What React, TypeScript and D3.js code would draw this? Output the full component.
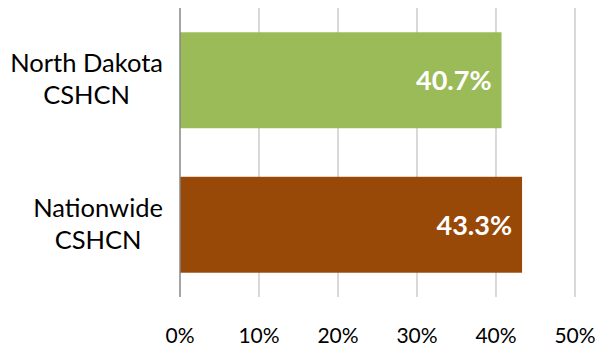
import React, { useEffect, useRef } from "react";
import * as d3 from "d3";

const categories = ["North Dakota\nCSHCN", "Nationwide\nCSHCN"];
const values = [40.7, 43.3];
const barColors = ["#9BBB59", "#984807"];
const ticks = [0, 10, 20, 30, 40, 50];

const W = 602;
const H = 347;

export default function App() {
  const ref = useRef<SVGSVGElement>(null);

  useEffect(() => {
    const svg = d3.select(ref.current);
    svg.selectAll("*").remove();

    const x = d3.scaleLinear().domain([0, 50]).range([180, 575]);
    const y = d3.scaleBand<number>().domain(d3.range(categories.length)).range([8, 297]).paddingInner(0.336).paddingOuter(0.168);

    // gridlines
    svg.append("g")
      .selectAll("line")
      .data(ticks.filter((t) => t !== 0))
      .join("line")
      .attr("x1", (d) => x(d))
      .attr("x2", (d) => x(d))
      .attr("y1", 8)
      .attr("y2", 297)
      .attr("stroke", "#BFBFBF")
      .attr("stroke-width", 1.2);

    // bars
    svg.append("g")
      .selectAll("rect")
      .data(values)
      .join("rect")
      .attr("x", x(0))
      .attr("y", (_, i) => y(i)!)
      .attr("width", (d) => x(d) - x(0))
      .attr("height", y.bandwidth())
      .attr("fill", (_, i) => barColors[i]);

    // axis line
    svg.append("line")
      .attr("x1", x(0))
      .attr("x2", x(0))
      .attr("y1", 8)
      .attr("y2", 297)
      .attr("stroke", "#868686")
      .attr("stroke-width", 1.5);

    // value labels
    svg.append("g")
      .selectAll("text")
      .data(values)
      .join("text")
      .attr("x", (d) => x(d) - 10)
      .attr("y", (_, i) => y(i)! + y.bandwidth() / 2 + 10)
      .attr("text-anchor", "end")
      .attr("font-family", "Lato, sans-serif")
      .attr("font-weight", "bold")
      .attr("font-size", 27)
      .attr("fill", "#FFFFFF")
      .text((d) => d.toFixed(1) + "%");

    // tick labels
    svg.append("g")
      .selectAll("text")
      .data(ticks)
      .join("text")
      .attr("x", (d) => x(d))
      .attr("y", 343)
      .attr("text-anchor", "middle")
      .attr("font-family", "Lato, sans-serif")
      .attr("font-size", 21)
      .attr("fill", "#000")
      .text((d) => d + "%");

    // category labels
    categories.forEach((c, i) => {
      const lines = c.split("\n");
      const g = svg.append("g");
      const cy = y(i)! + y.bandwidth() / 2;
      const texts = g
        .selectAll("text")
        .data(lines)
        .join("text")
        .attr("y", (_, j) => cy + 8 + (j - (lines.length - 1) / 2) * 32)
        .attr("text-anchor", "middle")
        .attr("font-family", "Lato, sans-serif")
        .attr("font-size", 25.5)
        .attr("fill", "#000")
        .text((d) => d);
      let maxW = 0;
      texts.each(function () {
        maxW = Math.max(maxW, (this as SVGTextElement).getComputedTextLength());
      });
      texts.attr("x", 163 - maxW / 2);
    });
  }, []);

  return (
    <svg
      ref={ref}
      width={W}
      height={H}
      style={{ position: "absolute", left: 0, top: 0, background: "#fff" }}
    />
  );
}
